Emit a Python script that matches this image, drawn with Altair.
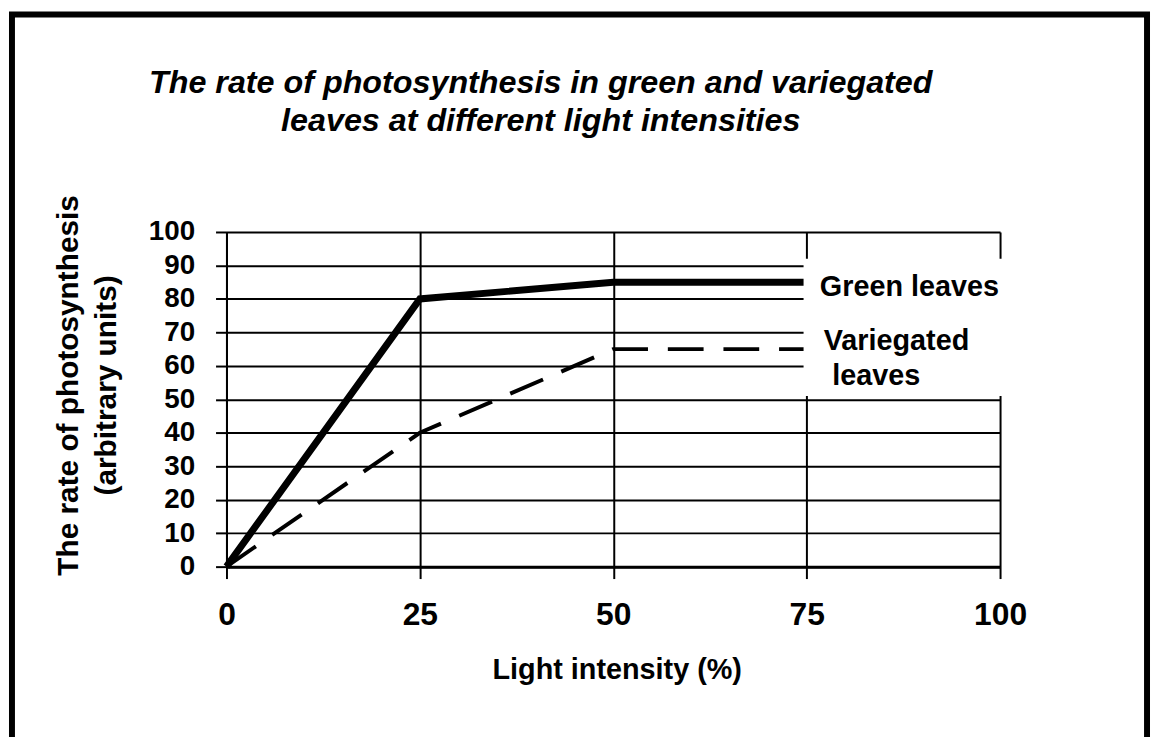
import altair as alt
import pandas as pd

# ---- data ----
light = [0, 25, 50, 75]
green = [0, 80, 85, 85]
variegated = [0, 40, 65, 65]

label_text = ["Green leaves", "Variegated", "leaves"]
label_x = [76.7, 77.2, 78.3]
label_y = [81.0, 64.7, 54.3]

x_ticks = [0, 25, 50, 75, 100]
y_ticks = [0, 10, 20, 30, 40, 50, 60, 70, 80, 90, 100]

FONT = "Liberation Sans, Arial, Helvetica, sans-serif"

df_green = pd.DataFrame({"x": light, "y": green})
df_var = pd.DataFrame({"x": light, "y": variegated})
df_lab = pd.DataFrame({"t": label_text, "x": label_x, "y": label_y})
one = pd.DataFrame({"k": [0]})

xscale = alt.Scale(domain=[0, 100], nice=False, zero=False)
yscale = alt.Scale(domain=[0, 100], nice=False, zero=False)

xaxis = alt.Axis(
    values=x_ticks, title="Light intensity (%)", grid=True,
    gridColor="black", gridWidth=2, gridOpacity=1,
    domainColor="black", domainWidth=3,
    tickColor="black", tickWidth=2, tickSize=12,
    labelFont=FONT, labelFontSize=32, labelFontWeight="bold", labelColor="black",
    labelBaseline="alphabetic", labelPadding=46, labelFlush=False, labelOverlap=False,
    titleFont=FONT, titleFontSize=29, titleFontWeight="bold", titleColor="black",
    titleBaseline="alphabetic", titleY=113, titleX=393, titleAlign="center",
)
yaxis = alt.Axis(
    values=y_ticks, tickCount=11, title=["The rate of photosynthesis", "(arbitrary units)"], grid=True,
    gridColor="black", gridWidth=2, gridOpacity=1,
    domainColor="black", domainWidth=2,
    tickColor="black", tickWidth=2, tickSize=11,
    labelFont=FONT, labelFontSize=28, labelFontWeight="bold", labelColor="black",
    labelPadding=21, labelFlush=False, labelOverlap=False,
    titleFont=FONT, titleFontSize=30, titleFontWeight="bold", titleColor="black",
    titleAngle=270, titleAlign="center", titleBaseline="alphabetic",
    titleLineHeight=38, titleX=-150, titleY=154,
)

green_line = alt.Chart(df_green).mark_line(
    color="black", strokeWidth=7, strokeJoin="miter", strokeCap="butt"
).encode(
    x=alt.X("x:Q", scale=xscale, axis=xaxis),
    y=alt.Y("y:Q", scale=yscale, axis=yaxis),
)

var_line = alt.Chart(df_var).mark_line(
    color="black", strokeWidth=4, strokeDash=[36, 20], strokeCap="butt"
).encode(
    x=alt.X("x:Q", scale=xscale, axis=xaxis),
    y=alt.Y("y:Q", scale=yscale, axis=yaxis),
)

box = alt.Chart(one).mark_rect(fill="white", strokeWidth=0).encode(
    x=alt.datum(74.6), x2=alt.datum(100.4), y=alt.datum(51), y2=alt.datum(92)
)

labels = alt.Chart(df_lab).mark_text(
    font=FONT, fontSize=29, fontWeight="bold", color="black",
    align="left", baseline="alphabetic"
).encode(x=alt.X("x:Q", scale=xscale, axis=xaxis), y=alt.Y("y:Q", scale=yscale, axis=yaxis), text="t:N")

frame = alt.Chart(one).mark_rect(
    fillOpacity=0, stroke="black", strokeWidth=6
).encode(
    x=alt.value(-216), x2=alt.value(927), y=alt.value(-219), y2=alt.value(560)
)

chart = alt.layer(green_line, var_line, box, labels, frame).properties(
    width=779, height=337,
    autosize=alt.AutoSizeParams(type="none"),
    padding={"left": 220, "top": 223, "right": 152, "bottom": 169},
    background="white",
    title=alt.TitleParams(
        text=["The rate of photosynthesis in green and variegated",
              "leaves at different light intensities"],
        font=FONT, fontSize=32.5, fontStyle="italic", fontWeight="bold", color="black",
        anchor="middle", frame="group", dx=-73, dy=153, baseline="alphabetic",
        lineHeight=38, offset=0,
    ),
).configure_view(stroke=None)

chart.save("out.html", embed_options={"renderer": "svg", "actions": False})
